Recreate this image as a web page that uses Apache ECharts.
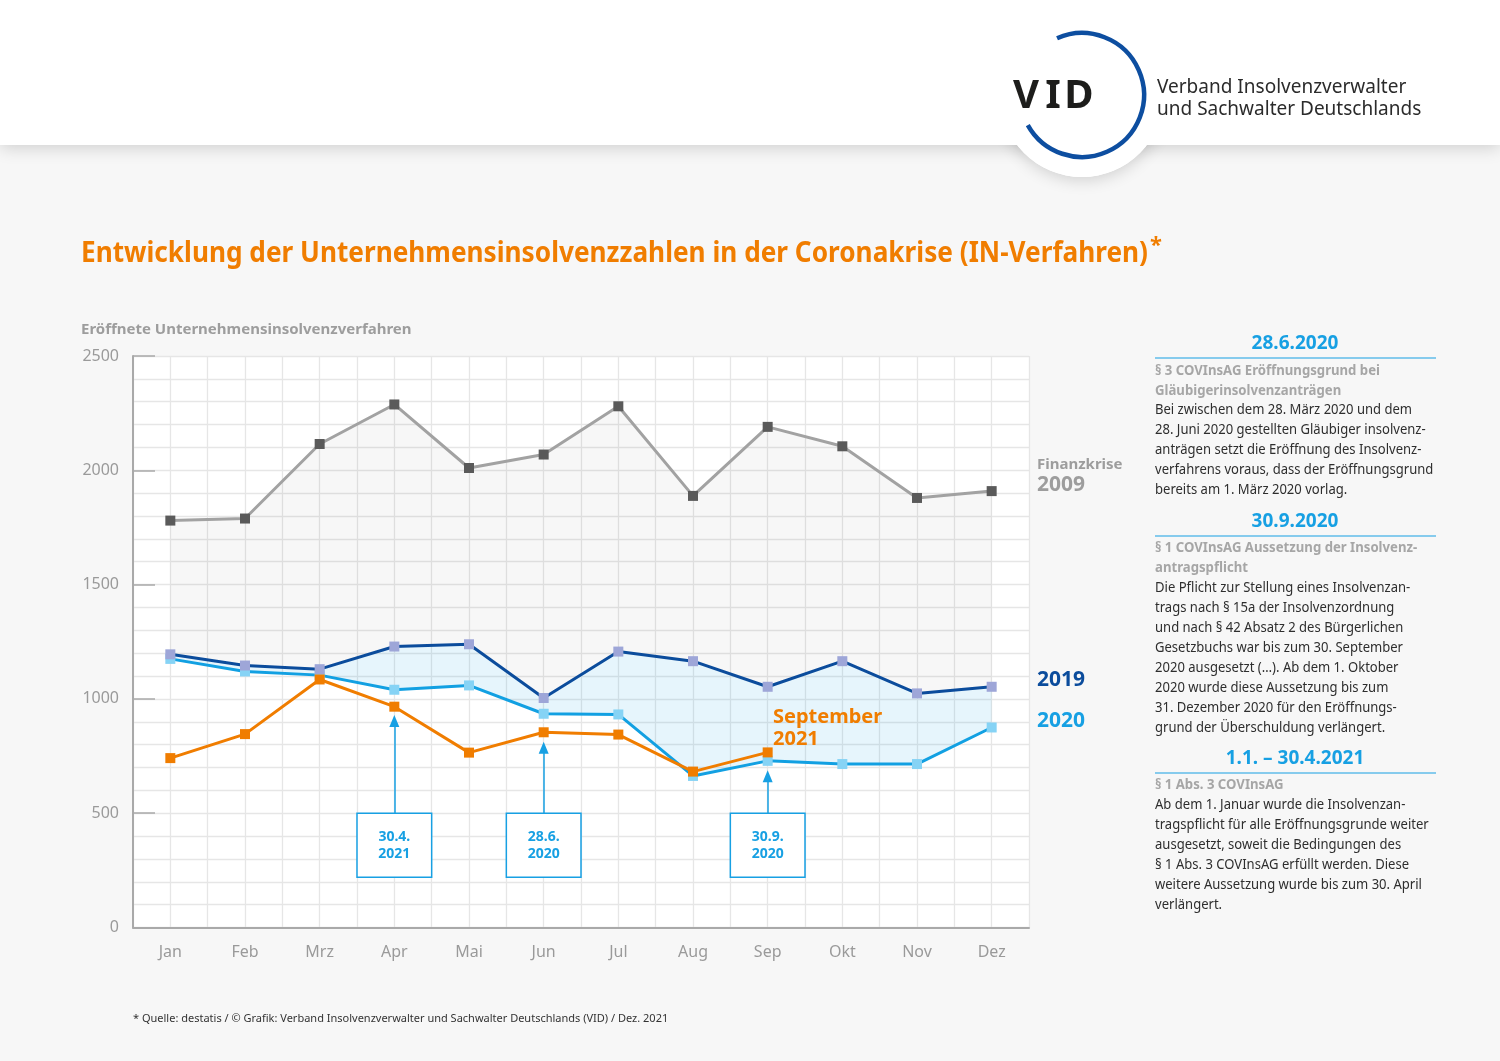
<!DOCTYPE html>
<html>
<head>
<meta charset="utf-8">
<script src="https://cdn.jsdelivr.net/npm/echarts@6/dist/echarts.min.js"></script>
<style>
html,body{margin:0;padding:0;background:#f7f7f7;}
#c{width:1500px;height:1061px;}
</style>
</head>
<body>
<div id="c"></div>
<script>
// ---------- data ----------
const months = ['Jan','Feb','Mrz','Apr','Mai','Jun','Jul','Aug','Sep','Okt','Nov','Dez'];
const v2009 = [1780,1789,2115,2288,2010,2069,2280,1888,2190,2105,1879,1909];
const v2019 = [1195,1146,1130,1229,1239,1004,1207,1165,1053,1165,1024,1053];
const v2020 = [1175,1120,1104,1040,1059,935,932,663,729,715,715,875];
const v2021 = [741,846,1085,966,765,854,844,682,766,null,null,null];
const yTicks = [0,500,1000,1500,2000,2500];
// annotations (month, label, arrow head value)
const annMonths = ['Apr','Jun','Sep'];
const annLabels = ['30.4.\n2021','28.6.\n2020','30.9.\n2020'];
const annArrowHead = [903,786,662];
const annBoxLow = 220, annBoxHigh = 500;

const titleText = 'Entwicklung der Unternehmensinsolvenzzahlen in der Coronakrise (IN-Verfahren)';
const yName = 'Eröffnete Unternehmensinsolvenzverfahren';
const footnote = '* Quelle: destatis / © Grafik: Verband Insolvenzverwalter und Sachwalter Deutschlands (VID) / Dez. 2021';

const blocks = [
  {head:'28.6.2020',
   sub:['§ 3 COVInsAG Eröffnungsgrund bei','Gläubigerinsolvenzanträgen'],
   body:['Bei zwischen dem 28. März 2020 und dem','28. Juni 2020 gestellten Gläubiger insolvenz-','anträgen setzt die Eröffnung des Insolvenz-','verfahrens voraus, dass der Eröffnungsgrund','bereits am 1. März 2020 vorlag.']},
  {head:'30.9.2020',
   sub:['§ 1 COVInsAG Aussetzung der Insolvenz-','antragspflicht'],
   body:['Die Pflicht zur Stellung eines Insolvenzan-','trags nach § 15a der Insolvenzordnung','und nach § 42 Absatz 2 des Bürgerlichen','Gesetzbuchs war bis zum 30. September','2020 ausgesetzt (…). Ab dem 1. Oktober','2020 wurde diese Aussetzung bis zum','31. Dezember 2020 für den Eröffnungs-','grund der Überschuldung verlängert.']},
  {head:'1.1. – 30.4.2021',
   sub:['§ 1 Abs. 3 COVInsAG'],
   body:['Ab dem 1. Januar wurde die Insolvenzan-','tragspflicht für alle Eröffnungsgrunde weiter','ausgesetzt, soweit die Bedingungen des','§ 1 Abs. 3 COVInsAG erfüllt werden. Diese','weitere Aussetzung wurde bis zum 30. April','verlängert.']}
];
// ---------- layout ----------
const FF = '"Noto Sans", "DejaVu Sans", sans-serif';
const ORANGE = '#f07d00', BLUE = '#17a0e3', DARKBLUE = '#0b4c9c';
const blockPos = [{h:344, sub:361, body:400},{h:522, sub:538, body:578},{h:759, sub:775, body:795}];

const mctx = document.createElement('canvas').getContext('2d');
function measure(t, font){ mctx.font = font; return mctx.measureText(t).width; }
const titleFont = 'bold 29px ' + FF;
const titleW = measure(titleText, titleFont);
const titleScale = 1067 / titleW;

const diff2019 = v2019.map((v,i)=>v - v2020[i]);
const diff2009 = v2009.map((v,i)=>v - v2019[i]);

const graphics = [];
// header
graphics.push({type:'rect', z:100, shape:{x:0,y:-30,width:1500,height:175}, style:{fill:'#fff', shadowBlur:16, shadowColor:'rgba(0,0,0,0.16)', shadowOffsetY:3}});
graphics.push({type:'circle', z:101, shape:{cx:1082,cy:95,r:82}, style:{fill:'#fff', shadowBlur:16, shadowColor:'rgba(0,0,0,0.16)', shadowOffsetY:3}});
graphics.push({type:'rect', z:102, shape:{x:0,y:0,width:1500,height:145}, style:{fill:'#fff'}});
graphics.push({type:'circle', z:103, shape:{cx:1082,cy:95,r:82}, style:{fill:'#fff'}});
graphics.push({type:'arc', z:104, shape:{cx:1082,cy:95,r:62,startAngle:-1.985,endAngle:2.635,clockwise:true}, style:{stroke:'#0d4ea0', lineWidth:4.5, fill:null}});
[['V',1026],['I',1053],['D',1079]].forEach(([ch,x])=>{
  graphics.push({type:'text', z:105, x:x, y:97, style:{text:ch, font:'bold 40px '+FF, fill:'#1d1d1b', align:'center', verticalAlign:'middle'}});
});
graphics.push({type:'text', z:105, x:1157, y:87, scaleX:0.975, style:{text:'Verband Insolvenzverwalter', font:'19.5px '+FF, fill:'#2b2b2b', verticalAlign:'middle'}});
graphics.push({type:'text', z:105, x:1157, y:109, scaleX:0.975, style:{text:'und Sachwalter Deutschlands', font:'19.5px '+FF, fill:'#2b2b2b', verticalAlign:'middle'}});
// title
graphics.push({type:'text', z:105, x:81, y:254, scaleX:titleScale, style:{text:titleText, font:titleFont, fill:ORANGE, verticalAlign:'middle'}});
graphics.push({type:'text', z:105, x:81 + 1067 + 2, y:246, style:{text:'*', font:'bold 22px '+FF, fill:ORANGE, verticalAlign:'middle'}});
// y name
graphics.push({type:'text', z:105, x:81, y:330, style:{text:yName, font:'bold 15px '+FF, fill:'#9d9d9d', verticalAlign:'middle'}});
// series labels
graphics.push({type:'text', z:105, x:1037, y:465, style:{text:'Finanzkrise', font:'bold 15px '+FF, fill:'#9d9d9d', verticalAlign:'middle'}});
graphics.push({type:'text', z:105, x:1037, y:485, style:{text:'2009', font:'bold 21px '+FF, fill:'#9d9d9d', verticalAlign:'middle'}});
graphics.push({type:'text', z:105, x:1037, y:680, style:{text:'2019', font:'bold 21px '+FF, fill:DARKBLUE, verticalAlign:'middle'}});
graphics.push({type:'text', z:105, x:1037, y:721, style:{text:'2020', font:'bold 21px '+FF, fill:BLUE, verticalAlign:'middle'}});
graphics.push({type:'text', z:105, x:773, y:706, style:{text:'September\n2021', font:'bold 20px '+FF, lineHeight:22, fill:ORANGE, verticalAlign:'top'}});
// right panel
blocks.forEach((b,i)=>{
  const p = blockPos[i];
  graphics.push({type:'text', z:105, x:1295, y:p.h, style:{text:b.head, font:'bold 19px '+FF, fill:BLUE, align:'center', verticalAlign:'middle'}});
  graphics.push({type:'line', z:105, shape:{x1:1155,y1:p.h+14,x2:1436,y2:p.h+14}, style:{stroke:BLUE, lineWidth:1.2}});
  graphics.push({type:'text', z:105, x:1155, y:p.sub, scaleX:0.94, style:{text:b.sub.join('\n'), font:'bold 14px '+FF, lineHeight:20, fill:'#a6a6a6', verticalAlign:'top'}});
  graphics.push({type:'text', z:105, x:1155, y:p.body, scaleX:0.9, style:{text:b.body.join('\n'), font:'14.5px '+FF, lineHeight:20, fill:'#2e2e2e', verticalAlign:'top'}});
});
// footnote
graphics.push({type:'text', z:105, x:133, y:1019, style:{text:footnote, font:'11px '+FF, fill:'#333', verticalAlign:'middle'}});

const chart = echarts.init(document.getElementById('c'), null, {renderer:'canvas'});
const hidden = {opacity:0, width:0};
const annIdx = annMonths.map(m=>months.indexOf(m));

const option = {
  backgroundColor:'#f7f7f7',
  animation:false,
  textStyle:{fontFamily:FF},
  grid:{left:133, right:471, top:356, bottom:133.5, show:true, backgroundColor:'#fff', borderWidth:0},
  xAxis:[
    {type:'category', data:months, boundaryGap:true,
     axisLine:{lineStyle:{color:'#a9a9a9', width:2}},
     axisTick:{alignWithLabel:true, inside:true, length:13, lineStyle:{color:'#ababab', width:1.5}},
     axisLabel:{color:'#9a9a9a', fontSize:16, margin:17},
     splitLine:{show:false}, z:3},
    {type:'value', min:-0.5, max:11.5, interval:0.5, position:'bottom',
     axisLine:{show:false}, axisTick:{show:false}, axisLabel:{show:false},
     splitLine:{show:true, lineStyle:{color:'#e6e6e6', width:1.3}}}
  ],
  yAxis:[
    {type:'value', min:0, max:2500, interval:100,
     axisLine:{show:false}, axisTick:{show:false}, axisLabel:{show:false},
     splitLine:{show:true, lineStyle:{color:'#e6e6e6', width:1.3}}},
    {type:'value', min:0, max:2500, interval:500, position:'left',
     axisLine:{show:true, lineStyle:{color:'#a9a9a9', width:2}},
     axisTick:{show:true, inside:true, length:22, lineStyle:{color:'#a9a9a9', width:1.5}},
     axisLabel:{color:'#9a9a9a', fontSize:16, margin:14, formatter:v=>yTicks.includes(v)?String(v):''},
     splitLine:{show:false}, z:3}
  ],
  graphic:{elements:graphics},
  series:[
    {name:'base2019', type:'line', stack:'g', data:v2019, symbol:'none', lineStyle:hidden, silent:true, z:1},
    {name:'fill2009', type:'line', stack:'g', data:diff2009, symbol:'none', lineStyle:hidden, silent:true, z:1,
     areaStyle:{color:'rgba(0,0,0,0.045)'}},
    {name:'base2020', type:'line', stack:'b', data:v2020, symbol:'none', lineStyle:hidden, silent:true, z:1},
    {name:'fill2019', type:'line', stack:'b', data:diff2019, symbol:'none', lineStyle:hidden, silent:true, z:1,
     areaStyle:{color:'rgba(20,160,230,0.15)'}},
    {name:'2009', type:'line', data:v2009, symbol:'rect', symbolSize:10, z:3,
     lineStyle:{color:'#a2a2a2', width:3}, itemStyle:{color:'#5a5a5a', borderWidth:0}},
    {name:'2020', type:'line', data:v2020, symbol:'rect', symbolSize:10, z:4,
     lineStyle:{color:'#12a0e2', width:3}, itemStyle:{color:'#86d3f5', borderWidth:0}},
    {name:'2019', type:'line', data:v2019, symbol:'rect', symbolSize:10, z:5,
     lineStyle:{color:DARKBLUE, width:3}, itemStyle:{color:'#9ea6d8', borderWidth:0}},
    {name:'2021', type:'line', data:v2021, symbol:'rect', symbolSize:10, z:6,
     lineStyle:{color:ORANGE, width:3}, itemStyle:{color:ORANGE, borderWidth:0}},
    {name:'annArrows', type:'scatter', xAxisIndex:1, yAxisIndex:0, z:7, silent:true,
     data:annIdx.map((i,k)=>[i, annArrowHead[k]]), symbol:'triangle', symbolSize:[10,12],
     itemStyle:{color:BLUE, opacity:1},
     markArea:{silent:true,
       itemStyle:{color:'#fff', borderColor:BLUE, borderWidth:1.5},
       label:{show:true, position:'inside', color:BLUE, fontWeight:'bold', fontSize:14, lineHeight:17, fontFamily:FF},
       data:annIdx.map((i,k)=>[{name:annLabels[k], coord:[i-0.5, annBoxLow]},{coord:[i+0.5, annBoxHigh]}])},
     markLine:{silent:true, symbol:['none','none'],
       lineStyle:{color:BLUE, width:1.5, type:'solid', opacity:1}, label:{show:false},
       data:annIdx.map((i,k)=>[{coord:[i, annBoxHigh]},{coord:[i, annArrowHead[k]]}])}
    }
  ]
};
chart.setOption(option);
</script>
</body>
</html>
